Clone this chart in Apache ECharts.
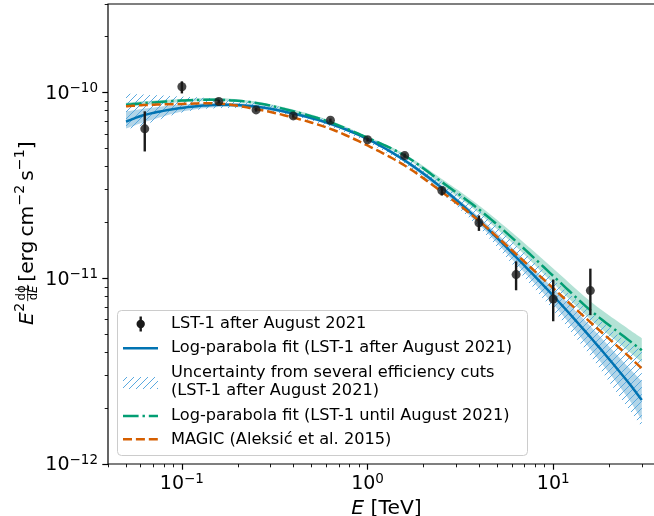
<!DOCTYPE html>
<html><head><meta charset="utf-8">
<script src="https://cdn.jsdelivr.net/npm/echarts@6/dist/echarts.min.js"></script>
<style>html,body{margin:0;padding:0;background:#fff}#c{width:654px;height:516px}</style>
</head><body><div id="c"></div>
<script>
// ---------- data ----------
const energyGrid = [0.05, 0.0631, 0.1, 0.158, 0.251, 0.398, 0.631, 1.0, 1.585, 2.512, 3.98, 6.31, 10, 15.85, 25.1, 30];
const fitAfterAug = [6.98e-11, 7.59e-11, 8.27e-11, 8.59e-11, 8.41e-11, 7.71e-11, 6.79e-11, 5.62e-11, 4.31e-11, 3.07e-11, 2.05e-11, 1.30e-11, 8.05e-12, 4.82e-12, 2.79e-12, 2.21e-12];
const fitUntilAug = [8.59e-11, 8.78e-11, 9.06e-11, 9.14e-11, 8.80e-11, 7.93e-11, 6.92e-11, 5.71e-11, 4.58e-11, 3.30e-11, 2.35e-11, 1.58e-11, 1.03e-11, 6.73e-12, 4.70e-12, 4.10e-12];
const magic2015 = [8.44e-11, 8.57e-11, 8.69e-11, 8.73e-11, 8.15e-11, 7.34e-11, 6.38e-11, 5.19e-11, 4.05e-11, 2.92e-11, 2.04e-11, 1.35e-11, 8.84e-12, 5.80e-12, 3.86e-12, 3.27e-12];
const blueBandLow = [6.41e-11, 6.94e-11, 7.90e-11, 8.36e-11, 8.20e-11, 7.57e-11, 6.65e-11, 5.52e-11, 4.21e-11, 2.95e-11, 1.95e-11, 1.20e-11, 7.25e-12, 4.15e-12, 2.29e-12, 1.72e-12];
const blueBandHigh = [7.90e-11, 8.20e-11, 8.62e-11, 8.78e-11, 8.62e-11, 7.86e-11, 6.90e-11, 5.73e-11, 4.42e-11, 3.16e-11, 2.14e-11, 1.39e-11, 8.84e-12, 5.52e-12, 3.36e-12, 2.79e-12];
const hatchLow = [6.32e-11, 6.73e-11, 7.81e-11, 8.25e-11, 8.10e-11, 7.48e-11, 6.52e-11, 5.39e-11, 4.10e-11, 2.86e-11, 1.88e-11, 1.13e-11, 6.73e-12, 3.81e-12, 2.02e-12, 1.58e-12];
const hatchHigh = [9.88e-11, 9.76e-11, 9.52e-11, 9.28e-11, 8.89e-11, 8.05e-11, 7.03e-11, 5.80e-11, 4.58e-11, 3.32e-11, 2.32e-11, 1.52e-11, 9.88e-12, 6.57e-12, 4.53e-12, 4.10e-12];
const greenBandLow = [8.36e-11, 8.57e-11, 8.89e-11, 9.00e-11, 8.67e-11, 7.81e-11, 6.81e-11, 5.62e-11, 4.50e-11, 3.18e-11, 2.24e-11, 1.48e-11, 9.40e-12, 6.02e-12, 4.10e-12, 3.53e-12];
const greenBandHigh = [8.83e-11, 9.00e-11, 9.23e-11, 9.34e-11, 8.95e-11, 8.10e-11, 7.07e-11, 5.80e-11, 4.67e-11, 3.43e-11, 2.47e-11, 1.69e-11, 1.13e-11, 7.52e-12, 5.38e-12, 4.76e-12];

const pointE = [0.0631, 0.1, 0.158, 0.251, 0.398, 0.631, 1.0, 1.585, 2.512, 3.98, 6.31, 10, 15.85];
const pointF = [6.38e-11, 1.076e-10, 8.95e-11, 8.07e-11, 7.49e-11, 7.10e-11, 5.57e-11, 4.58e-11, 2.97e-11, 1.99e-11, 1.047e-11, 7.74e-12, 8.59e-12];
const pointLo = [4.82e-11, 9.90e-11, 8.75e-11, 7.90e-11, 7.35e-11, 6.95e-11, 5.45e-11, 4.46e-11, 2.79e-11, 1.80e-11, 8.62e-12, 5.87e-12, 6.33e-12];
const pointHi = [7.93e-11, 1.15e-10, 9.15e-11, 8.25e-11, 7.65e-11, 7.25e-11, 5.69e-11, 4.70e-11, 3.09e-11, 2.18e-11, 1.234e-11, 9.84e-12, 1.127e-11];

const xMajorTicks = [0.1, 1, 10];
const xMinorTicks = [0.04,0.05,0.06,0.07,0.08,0.09,0.2,0.3,0.4,0.5,0.6,0.7,0.8,0.9,2,3,4,5,6,7,8,9,20,30,40];
const yMajorTicks = [1e-12, 1e-11, 1e-10];
const yMinorTicks = [2e-12,3e-12,4e-12,5e-12,6e-12,7e-12,8e-12,9e-12,2e-11,3e-11,4e-11,5e-11,6e-11,7e-11,8e-11,9e-11,2e-10,3e-10];

const legendLabels = ['LST-1 after August 2021', 'Log-parabola fit (LST-1 after August 2021)', 'Uncertainty from several efficiency cuts', '(LST-1 after August 2021)', 'Log-parabola fit (LST-1 until August 2021)', 'MAGIC (Aleksi\u0107 et al. 2015)'];

// ---------- styling ----------
const F = '"DejaVu Sans"';
const FF = 'DejaVu Sans';
const BLUE = '#0173B2', GREEN = '#029E73', ORANGE = '#D55E00', BLACK = '#1a1a1a';
const DASH = [9, 3.9];
const DASHDOT = [15.6, 3.9, 2.4, 3.9];
const AXF = 20.3;   // axis-title font size

function makeHatch() {
  const s = 7, c = document.createElement('canvas');
  c.width = s; c.height = s;
  const g = c.getContext('2d');
  g.strokeStyle = '#5aa9df'; g.lineWidth = 1;
  g.beginPath();
  g.moveTo(-1, s + 1); g.lineTo(s + 1, -1);
  g.moveTo(-1, 1); g.lineTo(1, -1);
  g.moveTo(s - 1, s + 1); g.lineTo(s + 1, s - 1);
  g.stroke();
  return c;
}
const hatchPattern = { image: makeHatch(), repeat: 'repeat' };

const pairs = (xs, ys) => xs.map((x, i) => [x, ys[i]]);

// smooth (cubic Hermite) rendering of pixel points produced by the axes
function smoothPixels(pts) {
  const n = pts.length, m = [];
  for (let i = 0; i < n; i++) {
    const a = pts[Math.max(0, i - 1)], b = pts[Math.min(n - 1, i + 1)];
    m.push((b[1] - a[1]) / (b[0] - a[0]));
  }
  const out = [];
  const K = 12;
  for (let i = 0; i < n - 1; i++) {
    const p = pts[i], q = pts[i + 1], h = q[0] - p[0];
    for (let k = 0; k < K; k++) {
      const t = k / K, t2 = t * t, t3 = t2 * t;
      const y = (2 * t3 - 3 * t2 + 1) * p[1] + (t3 - 2 * t2 + t) * h * m[i] + (-2 * t3 + 3 * t2) * q[1] + (t3 - t2) * h * m[i + 1];
      out.push([p[0] + t * h, y]);
    }
  }
  out.push(pts[n - 1]);
  return out;
}

function curveSeries(ys, stroke, dash, z) {
  return { type: 'custom', z: z, silent: true, data: [[energyGrid[0], ys[0]]], encode: { x: 0, y: 1 },
    renderItem: function (p, api) {
      const pts = smoothPixels(energyGrid.map((e, i) => api.coord([e, ys[i]])));
      return { type: 'polyline', shape: { points: pts },
        style: { stroke: stroke, lineWidth: 2.5, lineDash: dash || null, fill: 'none' } };
    } };
}
function bandSeries(lo, hi, fill, z) {
  return { type: 'custom', z: z, silent: true, data: [[energyGrid[0], lo[0]]], encode: { x: 0, y: 1 },
    renderItem: function (p, api) {
      const top = smoothPixels(energyGrid.map((e, i) => api.coord([e, hi[i]])));
      const bot = smoothPixels(energyGrid.map((e, i) => api.coord([e, lo[i]]))).reverse();
      return { type: 'polygon', shape: { points: top.concat(bot) }, style: { fill: fill, stroke: 'none' } };
    } };
}

function expLabel(v) {
  const e = Math.round(Math.log10(v));
  return '{b|10}{s|' + (e < 0 ? '\u2212' : '') + Math.abs(e) + '}';
}
const richLab = {
  b: { fontSize: 19, fontFamily: FF, lineHeight: 22, verticalAlign: 'bottom', color: '#000' },
  s: { fontSize: 13.5, fontFamily: FF, lineHeight: 13, verticalAlign: 'top', color: '#000' }
};

// ---------- y-axis label built from text pieces ----------
const mctx = document.createElement('canvas').getContext('2d');
function tw(str, size, italic) { mctx.font = (italic ? 'italic ' : '') + size + 'px ' + F; return mctx.measureText(str).width; }
const yl = [];
let cur = -93;
const SUP = 14.2, SUPB = -9;
function piece(str, size, base, italic) {
  yl.push({ type: 'text', x: cur, y: base - 0.3 * size,
    style: { text: str, font: (italic ? 'italic ' : '') + size + 'px ' + F, fill: '#000', align: 'left', verticalAlign: 'middle' } });
  cur += tw(str, size, italic);
}
piece('E', AXF, 0, true);
cur += 0.5;
piece('2', SUP, SUPB, false);
cur += 1.5;
(function () {
  const fs = 11.5;
  const wN = tw('d\u03d5', fs, false);
  const wD = tw('d', fs, false) + tw('E', fs, true);
  const fw = Math.max(wN, wD) + 1.5;
  const start = cur;
  yl.push({ type: 'text', x: start + (fw - wN) / 2, y: -8 - 0.3 * fs,
    style: { text: 'd\u03d5', font: fs + 'px ' + F, fill: '#000', align: 'left', verticalAlign: 'middle' } });
  const dx = start + (fw - wD) / 2;
  yl.push({ type: 'text', x: dx, y: 3.6 - 0.3 * fs,
    style: { text: 'd', font: fs + 'px ' + F, fill: '#000', align: 'left', verticalAlign: 'middle' } });
  yl.push({ type: 'text', x: dx + tw('d', fs, false), y: 3.6 - 0.3 * fs,
    style: { text: 'E', font: 'italic ' + fs + 'px ' + F, fill: '#000', align: 'left', verticalAlign: 'middle' } });
  yl.push({ type: 'line', shape: { x1: start, y1: -5.8, x2: start + fw, y2: -5.8 }, style: { stroke: '#000', lineWidth: 0.9 } });
  cur = start + fw + 3;
})();
piece('[erg', AXF, 0, false);
cur += 4;
piece('cm', AXF, 0, false);
piece('\u22122', SUP, SUPB, false);
cur += 4;
piece('s', AXF, 0, false);
piece('\u22121', SUP, SUPB, false);
piece(']', AXF, 0, false);

// ---------- legend drawn as graphic ----------
const LX = 171;
const legendEls = [
  { type: 'rect', shape: { x: 117.5, y: 310.5, width: 410, height: 145, r: 4 },
    style: { fill: 'rgba(255,255,255,0.8)', stroke: '#cccccc', lineWidth: 1 } },
  { type: 'line', shape: { x1: 140.7, y1: 316.5, x2: 140.7, y2: 331.5 }, style: { stroke: BLACK, lineWidth: 2.4 } },
  { type: 'circle', shape: { cx: 140.7, cy: 324, r: 4.2 }, style: { fill: BLACK } },
  { type: 'line', shape: { x1: 123, y1: 348.3, x2: 158, y2: 348.3 }, style: { stroke: BLUE, lineWidth: 2.5 } },
  { type: 'rect', shape: { x: 123, y: 377, width: 35, height: 12 }, style: { fill: hatchPattern } },
  { type: 'line', shape: { x1: 123, y1: 416, x2: 158, y2: 416 }, style: { stroke: GREEN, lineWidth: 2.5, lineDash: DASHDOT } },
  { type: 'line', shape: { x1: 123, y1: 439.3, x2: 158, y2: 439.3 }, style: { stroke: ORANGE, lineWidth: 2.5, lineDash: DASH } }
];
const legendYs = [324, 348, 372.7, 390.7, 416, 439.3];
legendLabels.forEach((t, i) => legendEls.push({ type: 'text', x: LX, y: legendYs[i],
  style: { text: t, font: '16.2px ' + F, fill: '#000', align: 'left', verticalAlign: 'middle' } }));

// ---------- chart ----------
const chart = echarts.init(document.getElementById('c'), null, { renderer: 'canvas', width: 654, height: 516 });
const commonX = { type: 'log', logBase: 10, min: 0.04, max: 40, splitLine: { show: false }, axisLine: { show: false } };
const commonY = { type: 'log', logBase: 10, min: 1e-12, max: 3e-10, splitLine: { show: false }, axisLine: { show: false } };

chart.setOption({
  animation: false,
  backgroundColor: '#fff',
  grid: { left: 108, top: 4, width: 557, height: 460, outerBoundsMode: 'none', containLabel: false,
    show: true, borderColor: '#000', borderWidth: 1.2, backgroundColor: 'transparent' },
  xAxis: [
    Object.assign({}, commonX, {
      position: 'bottom',
      axisTick: { show: true, customValues: xMajorTicks, length: 5.7, lineStyle: { color: '#000', width: 1.2 } },
      axisLabel: { customValues: xMajorTicks, formatter: expLabel, rich: richLab, margin: 8 },
      name: '{i|E} [TeV]', nameLocation: 'middle', nameGap: 27,
      nameTextStyle: { fontSize: AXF, fontFamily: FF, color: '#000', rich: { i: { fontStyle: 'italic', fontSize: AXF, fontFamily: FF, color: '#000' } } }
    }),
    Object.assign({}, commonX, {
      position: 'bottom',
      axisTick: { show: true, customValues: xMinorTicks, length: 3.3, lineStyle: { color: '#000', width: 0.9 } },
      axisLabel: { show: false }
    })
  ],
  yAxis: [
    Object.assign({}, commonY, {
      position: 'left',
      axisTick: { show: true, customValues: yMajorTicks, length: 5.7, lineStyle: { color: '#000', width: 1.2 } },
      axisLabel: { customValues: yMajorTicks, formatter: expLabel, rich: richLab, margin: 10 }
    }),
    Object.assign({}, commonY, {
      position: 'left',
      axisTick: { show: true, customValues: yMinorTicks, length: 3.3, lineStyle: { color: '#000', width: 0.9 } },
      axisLabel: { show: false }
    })
  ],
  series: [
    bandSeries(greenBandLow, greenBandHigh, 'rgba(2,158,115,0.3)', 1),
    bandSeries(blueBandLow, blueBandHigh, 'rgba(1,115,178,0.3)', 1),
    bandSeries(hatchLow, hatchHigh, hatchPattern, 2),
    curveSeries(fitAfterAug, BLUE, null, 4),
    curveSeries(fitUntilAug, GREEN, DASHDOT, 4),
    curveSeries(magic2015, ORANGE, DASH, 4),
    { type: 'custom', z: 6, data: pointE.map((e, i) => [e, pointLo[i], pointHi[i]]), encode: { x: 0, y: [1, 2] },
      renderItem: function (p, api) {
        const a = api.coord([api.value(0), api.value(1)]);
        const b = api.coord([api.value(0), api.value(2)]);
        return { type: 'line', shape: { x1: a[0], y1: a[1], x2: b[0], y2: b[1] }, style: { stroke: BLACK, lineWidth: 2.4 } };
      } },
    { type: 'scatter', z: 7, data: pairs(pointE, pointF), symbol: 'circle', symbolSize: 9, itemStyle: { color: BLACK } }
  ],
  graphic: [
    { type: 'group', x: 33.5, y: 232, rotation: Math.PI / 2, children: yl, z: 100 },
    { type: 'group', children: legendEls, z: 100 }
  ]
});
</script>
</body></html>
